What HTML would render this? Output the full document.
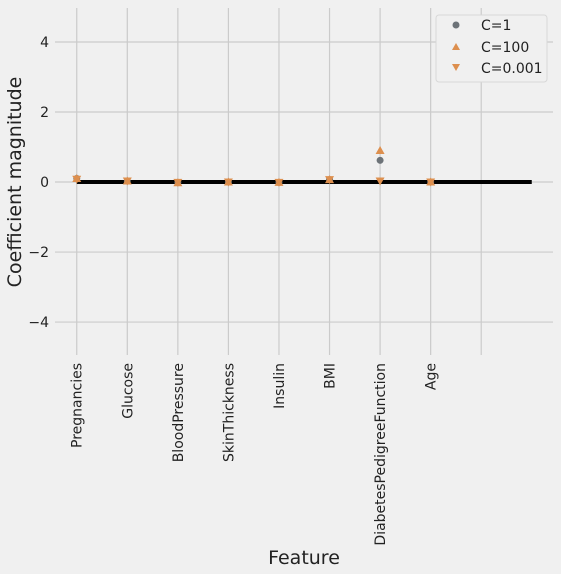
<!DOCTYPE html>
<html><head><meta charset="utf-8"><style>
body{margin:0;background:#f0f0f0;}
svg{display:block;font-family:"DejaVu Sans","Liberation Sans",sans-serif;}
</style></head><body>
<svg id="chart" width="561" height="574" viewBox="0 0 561 574" xmlns="http://www.w3.org/2000/svg">
<rect width="561" height="574" fill="#f0f0f0"/>
<g id="grid"></g>
<line id="zl" stroke="#000" stroke-width="4"/>
<g id="marks"></g>
<g id="yticks"></g>
<g id="xticks"></g>
<text transform="translate(21,182) rotate(-90)" text-anchor="middle" font-size="19" fill="#222">Coefficient magnitude</text>
<text x="304" y="564" text-anchor="middle" font-size="19" fill="#222">Feature</text>
<g>
<rect x="436" y="15" width="111" height="67" rx="3" fill="#f0f0f0" stroke="#d8d8d8"/>
<circle cx="456" cy="25" r="3.5" fill="#6d7378"/>
<path d="M452,50 L460,50 L456,43 Z" fill="#dd8f4e"/>
<path d="M452,64 L460,64 L456,71 Z" fill="#dd8f4e"/>
<text x="481" y="30" font-size="14" fill="#222">C=1</text>
<text x="481" y="52" font-size="14" fill="#222">C=100</text>
<text x="481" y="73" font-size="14" fill="#222">C=0.001</text>
</g>
</svg>
<script>
const categories=["Pregnancies","Glucose","BloodPressure","SkinThickness","Insulin","BMI","DiabetesPedigreeFunction","Age"];
const coefC1=[0.1,0.03,-0.01,0.0,-0.01,0.07,0.62,0.0];
const coefC100=[0.1,0.03,-0.02,0.0,-0.01,0.07,0.9,0.0];
const coefC0001=[0.08,0.03,-0.01,0.0,-0.01,0.07,0.03,0.0];
const yTicks=[-4,-2,0,2,4];
const xTickPositions=[0,1,2,3,4,5,6,7,8];
const NS="http://www.w3.org/2000/svg";
const L=55,R=553,T=8,B=355;
const xMin=-0.43,xMax=9.42,yMin=-4.94,yMax=4.97;
function xs(v){return L+(v-xMin)/(xMax-xMin)*(R-L);}
function ys(v){return B-(v-yMin)/(yMax-yMin)*(B-T);}
function mk(tag,attrs,parent){const e=document.createElementNS(NS,tag);for(const k in attrs)e.setAttribute(k,attrs[k]);parent.appendChild(e);return e;}
const grid=document.getElementById('grid'),marks=document.getElementById('marks'),yt=document.getElementById('yticks'),xt=document.getElementById('xticks');
yTicks.forEach(v=>{
 const l=mk('line',{x1:L,x2:R,y1:ys(v),y2:ys(v),stroke:'#cbcbcb','stroke-width':1.2},grid);
 
 
 const t=mk('text',{x:L-6,y:ys(v)+5,'text-anchor':'end','font-size':14,fill:'#222'},yt);
 t.textContent=v<0?'\u2212'+Math.abs(v):String(v);
 
 
});
xTickPositions.forEach(i=>{
 const l=mk('line',{x1:xs(i),x2:xs(i),y1:T,y2:B,stroke:'#cbcbcb','stroke-width':1.2},grid);
 
 
 if(i<categories.length){
  const t=mk('text',{transform:`translate(${xs(i)+5},363) rotate(-90)`,'text-anchor':'end','font-size':14,fill:'#222'},xt);
  t.textContent=categories[i];
  
  
 }
});
const zl=document.getElementById('zl');
zl.setAttribute('x1',xs(0));zl.setAttribute('x2',xs(9));zl.setAttribute('y1',ys(0));zl.setAttribute('y2',ys(0));
categories.forEach((c,i)=>{
 const x=xs(i);
 let y=ys(coefC1[i]);
 const ci=mk('circle',{cx:x,cy:y,r:3.5,fill:'#6d7378'},marks);
 
 
 y=ys(coefC100[i]);
 const up=mk('path',{d:`M${x-4.5},${y+3.5} L${x+4.5},${y+3.5} L${x},${y-4.5} Z`,fill:'#dd8f4e'},marks);
 
 
 y=ys(coefC0001[i]);
 const dn=mk('path',{d:`M${x-4.5},${y-3.5} L${x+4.5},${y-3.5} L${x},${y+4.5} Z`,fill:'#dd8f4e'},marks);
 
 
});
</script>
</body></html>
